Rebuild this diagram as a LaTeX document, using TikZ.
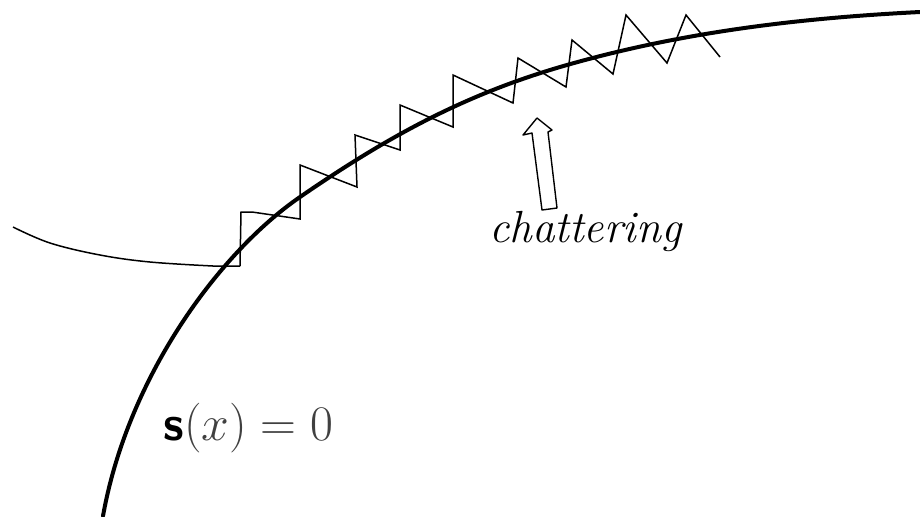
\documentclass[tikz,border=0pt]{standalone}
\usepackage{amsmath}
\begin{document}
\begin{tikzpicture}[x=0.5pt,y=-0.5pt,
  surface/.style={line width=2pt,line cap=round,line join=round},
  traj/.style={line width=0.75pt,line join=miter},
  hollowarrow/.style={line width=0.7pt,line join=round},
  lbl/.style={inner sep=0pt}]
\useasboundingbox (0,0) rectangle (920,516);
% sliding surface
\coordinate (s0) at (103,516);
\coordinate (s1) at (300,197);
\coordinate (s2) at (560,67);
\coordinate (s3) at (920,12);
\draw[surface] (s0) .. controls (128,376) and (220,252) .. (s1)
  .. controls (390,135) and (465,95) .. (s2)
  .. controls (680,32) and (800,18) .. (s3);
% approaching trajectory
\draw[traj] plot[smooth,tension=0.6] coordinates {(13,227) (50,243) (100,255) (150,262) (213,266)} -- (240,266);
% chattering zigzag
\draw[traj] (240,266) -- (241,212) -- (252,212) -- (300,219) -- (300,165) -- (357,187) -- (355,135) -- (400,150) -- (400,105) -- (453,127) -- (453,75) -- (513,103) -- (518,58) -- (566,87) -- (572,40) -- (613,74) -- (626,15) -- (667,63) -- (686,15) -- (720,57);
% hollow arrow
\draw[hollowarrow] (537,118) -- (552,130) -- (548,132) -- (557,208) -- (542,210) -- (532,133) -- (523,135) -- cycle;
% labels
\node[lbl,anchor=base,font=\fontsize{22.5}{27}\selectfont] (chat) at (586,242) {\textit{chattering}};
\node[lbl,anchor=base west,font=\fontsize{24.5}{29}\selectfont] (sx) at (163,440) {$\textbf{\textsf{s}}\color{black!75}(x) = 0$};
\end{tikzpicture}
\end{document}
